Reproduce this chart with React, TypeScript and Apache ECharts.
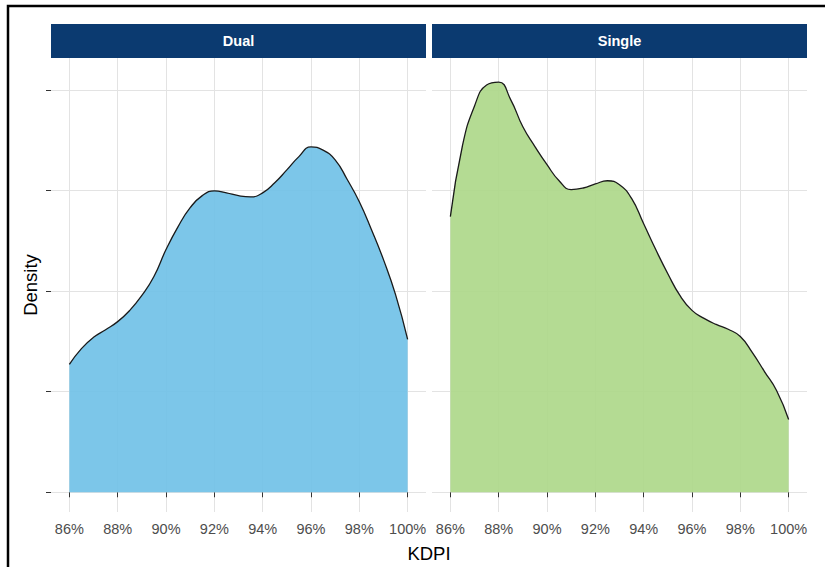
import React, { useEffect, useRef } from "react";
import * as echarts from "echarts";

// Facet panels
const panels = ["Dual", "Single"];

// KDPI (%) grid on which both density curves are sampled
const kdpi = [86.0, 86.5, 87.0, 87.5, 88.0, 88.5, 89.0, 89.5, 90.0, 90.5, 91.0, 91.5, 92.0, 92.5, 93.0, 93.5, 94.0, 94.5, 95.0, 95.5, 96.0, 96.5, 97.0, 97.5, 98.0, 98.5, 99.0, 99.5, 100.0];

// Density estimates per facet
const dualDensity = [0.0318, 0.0357, 0.0385, 0.0404, 0.0424, 0.0452, 0.0489, 0.0536, 0.0603, 0.066, 0.0707, 0.0737, 0.0749, 0.0744, 0.0737, 0.0734, 0.0744, 0.0769, 0.0801, 0.0834, 0.0858, 0.085, 0.0826, 0.0777, 0.0722, 0.0653, 0.0578, 0.0491, 0.038];
const singleDensity = [0.0685, 0.0861, 0.096, 0.1012, 0.1019, 0.0975, 0.0908, 0.0859, 0.0814, 0.0774, 0.0752, 0.0756, 0.0766, 0.0774, 0.0764, 0.073, 0.0667, 0.0603, 0.0543, 0.0489, 0.0452, 0.0432, 0.0417, 0.0405, 0.0387, 0.0347, 0.03, 0.0253, 0.0181];

// Axis ticks
const xTicks = [86, 88, 90, 92, 94, 96, 98, 100];
const yTicks = [0, 0.025, 0.05, 0.075, 0.1];

const fillColors = ["rgba(113,193,231,0.92)", "rgba(174,216,138,0.92)"];

const FONT = "'Liberation Sans', Arial, sans-serif";

export default function App() {
  const ref = useRef<HTMLDivElement>(null);

  useEffect(() => {
    if (!ref.current) return;
    const chart = echarts.init(ref.current, null, { renderer: "svg" });

    const gridLefts = [51, 432];
    const gridWidth = 375;
    const gridTop = 58;
    const gridHeight = 454;

    const densities = [dualDensity, singleDensity];

    const option: any = {
      animation: false,
      backgroundColor: "#ffffff",
      textStyle: { fontFamily: FONT },
      grid: gridLefts.map((l) => ({
        left: l,
        top: gridTop,
        width: gridWidth,
        height: gridHeight,
        containLabel: false,
      })),
      xAxis: gridLefts.map((_, i) => ({
        type: "value",
        gridIndex: i,
        min: 85.24,
        max: 100.76,
        axisLine: { show: false },
        axisTick: {
          show: true,
          length: 5,
          customValues: xTicks,
          lineStyle: { color: "#333333", width: 1 },
        },
        axisLabel: {
          customValues: xTicks,
          formatter: (v: number) => `${v}%`,
          color: "#4d4d4d",
          fontSize: 14.5,
          fontFamily: FONT,
          margin: 9,
        },
        splitLine: { show: true, lineStyle: { color: "#e3e3e3", width: 1 } },
      })),
      yAxis: gridLefts.map((_, i) => ({
        type: "value",
        gridIndex: i,
        min: -0.0049,
        max: 0.1079,
        axisLine: { show: false },
        axisTick: {
          show: i === 0,
          length: 5,
          customValues: yTicks,
          lineStyle: { color: "#333333", width: 1 },
        },
        axisLabel: { show: false, customValues: yTicks },
        splitLine: { show: true, lineStyle: { color: "#e3e3e3", width: 1 } },
        name: i === 0 ? "Density" : "",
        nameLocation: "middle",
        nameGap: 11,
        nameTextStyle: { color: "#000000", fontSize: 18.5, fontFamily: FONT },
      })),
      series: densities.map((ys, i) => ({
        type: "line",
        name: panels[i],
        xAxisIndex: i,
        yAxisIndex: i,
        data: kdpi.map((x, k) => [x, ys[k]]),
        smooth: 0.5,
        symbol: "none",
        lineStyle: { color: "#1a1a1a", width: 1.3 },
        areaStyle: { color: fillColors[i], opacity: 1 },
      })),
      graphic: [
        // outer frame
        {
          type: "rect",
          shape: { x: 8, y: 6, width: 900, height: 700 },
          style: { fill: "none", stroke: "#000000", lineWidth: 2.5 },
          silent: true,
        },
        ...panels.flatMap((p, i) => [
          {
            type: "rect",
            shape: { x: gridLefts[i], y: 24, width: gridWidth, height: 34 },
            style: { fill: "#0b3a70" },
            silent: true,
          },
          {
            type: "text",
            x: gridLefts[i] + gridWidth / 2,
            y: 41,
            style: {
              text: p,
              fill: "#ffffff",
              font: `bold 14.5px ${FONT}`,
              textAlign: "center",
              textVerticalAlign: "middle",
            },
            silent: true,
          },
        ]),
        {
          type: "text",
          x: 429,
          y: 553,
          style: {
            text: "KDPI",
            fill: "#000000",
            font: `18.5px ${FONT}`,
            textAlign: "center",
            textVerticalAlign: "middle",
          },
          silent: true,
        },
      ],
    };

    chart.setOption(option);
    return () => chart.dispose();
  }, []);

  return (
    <div
      ref={ref}
      style={{ position: "fixed", left: 0, top: 0, width: 825, height: 567 }}
    />
  );
}
